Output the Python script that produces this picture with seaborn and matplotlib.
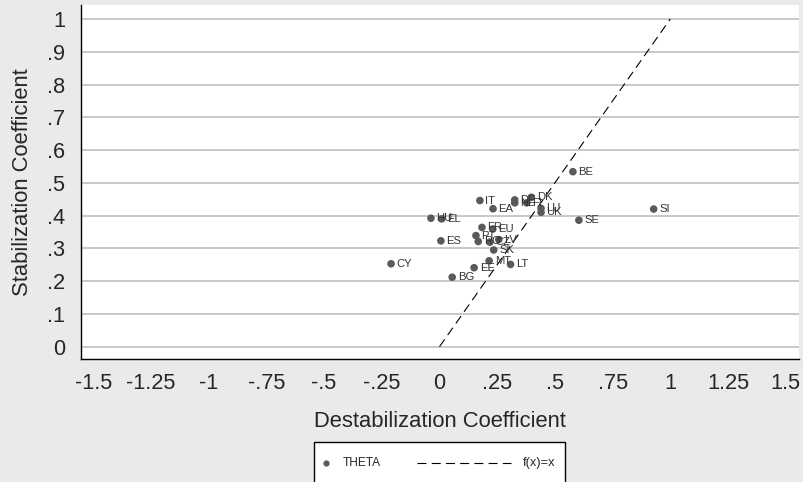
import numpy as np
import pandas as pd
import matplotlib
matplotlib.use("Agg")
import matplotlib.pyplot as plt
from matplotlib.patches import Rectangle
from matplotlib.lines import Line2D
import seaborn as sns

# Data
countries = ["BE", "SI", "SE", "IT", "EA", "DE", "NL", "FI", "DK", "LU", "UK",
             "HU", "EL", "FR", "EU", "PT", "ES", "RO", "CZ", "LV", "SK",
             "MT", "LT", "EE", "BG", "CY"]
destab = [0.578, 0.928, 0.604, 0.175, 0.232, 0.326, 0.326, 0.378, 0.398, 0.440, 0.440,
          -0.037, 0.009, 0.184, 0.231, 0.158, 0.006, 0.168, 0.218, 0.257, 0.235,
          0.215, 0.308, 0.150, 0.055, -0.210]
stab = [0.534, 0.420, 0.386, 0.446, 0.421, 0.448, 0.439, 0.439, 0.456, 0.422, 0.410,
        0.392, 0.390, 0.364, 0.359, 0.339, 0.323, 0.321, 0.319, 0.327, 0.295,
        0.262, 0.251, 0.241, 0.212, 0.253]

x_ticks = [-1.5, -1.25, -1, -0.75, -0.5, -0.25, 0, 0.25, 0.5, 0.75, 1, 1.25, 1.5]
x_tick_labels = ["-1.5", "-1.25", "-1", "-.75", "-.5", "-.25", "0", ".25", ".5", ".75", "1", "1.25", "1.5"]
y_ticks = [0, 0.1, 0.2, 0.3, 0.4, 0.5, 0.6, 0.7, 0.8, 0.9, 1]
y_tick_labels = ["0", ".1", ".2", ".3", ".4", ".5", ".6", ".7", ".8", ".9", "1"]

df = pd.DataFrame({"country": countries, "destab": destab, "stab": stab})

sns.set_style("white")
plt.rcParams['font.family'] = ['Liberation Sans', 'DejaVu Sans']

W, H = 804, 482
fig = plt.figure(figsize=(W / 100, H / 100), dpi=100, facecolor="#EAEAEA")
ax = fig.add_axes([81 / W, 1 - 359.3 / H, (799 - 81) / W, (359.3 - 5) / H])
ax.set_facecolor("white")

for yv in y_ticks:
    ax.axhline(yv, color="#C8C8C8", lw=1.4, zorder=0)

ax.plot([0, 1], [0, 1], color="black", lw=0.8, ls=(0, (8.1, 4.7)), zorder=1)

sns.scatterplot(data=df, x="destab", y="stab", ax=ax, color="#5A5A5A", s=30,
                edgecolor="none", zorder=3, legend=False)
for _, r in df.iterrows():
    ax.annotate(r["country"], (r["destab"], r["stab"]), xytext=(4, 0),
                textcoords="offset points", va="center", ha="left",
                fontsize=8.1, color="#333333")

ax.set_xlim(-1.5533, 1.5577)
ax.set_ylim(-0.0385, 1.0427)
ax.set_xticks(x_ticks)
ax.set_xticklabels(x_tick_labels)
ax.set_yticks(y_ticks)
ax.set_yticklabels(y_tick_labels)
ax.tick_params(axis="both", direction="out", length=6.8, width=1, color="black",
               labelsize=15.7, pad=3)
ax.tick_params(axis="y", labelrotation=0, pad=4.5)
for side in ["top", "right"]:
    ax.spines[side].set_visible(False)
for side in ["left", "bottom"]:
    ax.spines[side].set_color("black")
    ax.spines[side].set_linewidth(1)
ax.set_xlabel("Destabilization Coefficient", fontsize=15.8, labelpad=12)
ax.set_ylabel("Stabilization Coefficient", fontsize=15.8, labelpad=10)

# legend box (runs off the bottom edge like the original)
def fx(px):
    return px / W

def fy(py):
    return 1 - py / H

fig.patches.append(Rectangle((fx(314), fy(492)), fx(565) - fx(314), fy(442) - fy(492),
                             transform=fig.transFigure, facecolor="white",
                             edgecolor="black", lw=1, clip_on=False))
fig.lines.append(Line2D([fx(326)], [fy(463)], marker="o", ms=4.5, color="#5A5A5A",
                        mec="none", transform=fig.transFigure))
fig.text(fx(343), fy(463), "THETA", fontsize=8.6, va="center", ha="left")
fig.lines.append(Line2D([fx(417), fx(511)], [fy(463), fy(463)], color="black", lw=0.8,
                        ls=(0, (8.1, 4.7)), transform=fig.transFigure))
fig.text(fx(523), fy(463), "f(x)=x", fontsize=9.2, va="center", ha="left")

fig.savefig("out.png", dpi=100, facecolor=fig.get_facecolor())
